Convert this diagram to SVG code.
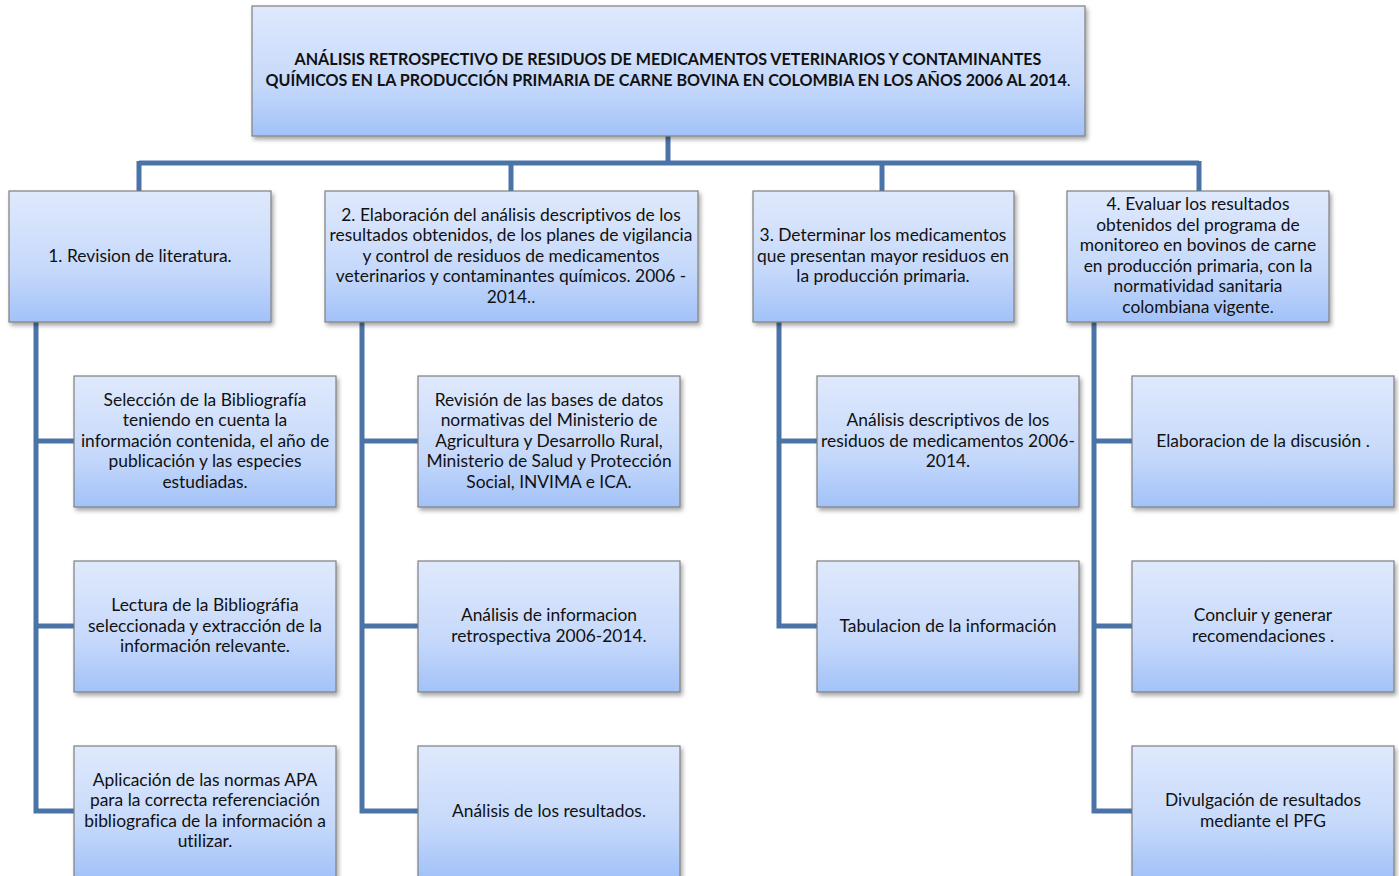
<svg xmlns="http://www.w3.org/2000/svg" width="1399" height="876" viewBox="0 0 1399 876">
<defs>
<linearGradient id="g" x1="0" y1="0" x2="0" y2="1">
<stop offset="0" stop-color="#dfe9fc"/>
<stop offset="0.6" stop-color="#c6d9fb"/>
<stop offset="1" stop-color="#a2c2f8"/>
</linearGradient>
<filter id="sh" x="-10%" y="-10%" width="120%" height="130%">
<feDropShadow dx="2" dy="3" stdDeviation="2" flood-color="#000" flood-opacity="0.35"/>
</filter>
</defs>
<style>
.box{fill:url(#g);stroke:#7f7f7f;stroke-width:1.2;filter:url(#sh)}
.t{font-family:Lato,"Noto Sans",sans-serif;font-size:17.4px;fill:#111;text-anchor:middle;font-variant-ligatures:none}
.tb{font-family:Lato,"Noto Sans",sans-serif;font-size:16.1px;font-weight:bold;fill:#111;text-anchor:middle;font-variant-ligatures:none}
.c{fill:none;stroke:#4a74a8;stroke-width:5}
</style>
<rect width="1399" height="876" fill="#fff"/>
<g id="connectors">
<path class="c" d="M668 136V163M139 163H1199M139 161V191M511 161V191M882 161V191M1199 161V191"/>
<path class="c" d="M36 322V811H74M36 441H74M36 626H74"/>
<path class="c" d="M362 322V811H418M362 441H418M362 626H418"/>
<path class="c" d="M779 322V626H817M779 441H817"/>
<path class="c" d="M1094 322V811H1132M1094 441H1132M1094 626H1132"/>
</g>
<g id="root">
<rect class="box" x="252" y="6" width="833" height="130"/>
<text class="tb" x="668" y="65">ANÁLISIS RETROSPECTIVO DE RESIDUOS DE MEDICAMENTOS VETERINARIOS Y CONTAMINANTES</text>
<text class="tb" x="668" y="86">QUÍMICOS EN LA PRODUCCIÓN PRIMARIA DE CARNE BOVINA EN COLOMBIA EN LOS AÑOS 2006 AL 2014<tspan font-weight="normal">.</tspan></text>
</g>
<g id="n1">
<rect class="box" x="9" y="191" width="262" height="131"/>
<text class="t" x="140" y="262">1. Revision de literatura.</text>
</g>
<g id="n2">
<rect class="box" x="325" y="191" width="373" height="131"/>
<text class="t" x="511" y="221">2. Elaboración del análisis descriptivos de los</text>
<text class="t" x="511" y="241">resultados obtenidos, de los planes de vigilancia</text>
<text class="t" x="511" y="262">y control de residuos de medicamentos</text>
<text class="t" x="511" y="282">veterinarios y contaminantes químicos. 2006 -</text>
<text class="t" x="511" y="303">2014..</text>
</g>
<g id="n3">
<rect class="box" x="753" y="191" width="261" height="131"/>
<text class="t" x="883" y="241">3. Determinar los medicamentos</text>
<text class="t" x="883" y="262">que presentan mayor residuos en</text>
<text class="t" x="883" y="282">la producción primaria.</text>
</g>
<g id="n4">
<rect class="box" x="1067" y="191" width="262" height="131"/>
<text class="t" x="1198" y="210">4. Evaluar los resultados</text>
<text class="t" x="1198" y="231">obtenidos del programa de</text>
<text class="t" x="1198" y="251">monitoreo en bovinos de carne</text>
<text class="t" x="1198" y="272">en producción primaria, con la</text>
<text class="t" x="1198" y="292">normatividad sanitaria</text>
<text class="t" x="1198" y="313">colombiana vigente.</text>
</g>
<g id="n1a">
<rect class="box" x="74" y="376" width="262" height="131"/>
<text class="t" x="205" y="406">Selección de la Bibliografía</text>
<text class="t" x="205" y="426">teniendo en cuenta la</text>
<text class="t" x="205" y="447">información contenida, el año de</text>
<text class="t" x="205" y="467">publicación y las especies</text>
<text class="t" x="205" y="488">estudiadas.</text>
</g>
<g id="n1b">
<rect class="box" x="74" y="561" width="262" height="131"/>
<text class="t" x="205" y="611">Lectura de la Bibliográfia</text>
<text class="t" x="205" y="632">seleccionada y extracción de la</text>
<text class="t" x="205" y="652">información relevante.</text>
</g>
<g id="n1c">
<rect class="box" x="74" y="746" width="262" height="131"/>
<text class="t" x="205" y="786">Aplicación de las normas APA</text>
<text class="t" x="205" y="806">para la correcta referenciación</text>
<text class="t" x="205" y="827">bibliografica de la información a</text>
<text class="t" x="205" y="847">utilizar.</text>
</g>
<g id="n2a">
<rect class="box" x="418" y="376" width="262" height="131"/>
<text class="t" x="549" y="406">Revisión de las bases de datos</text>
<text class="t" x="549" y="426">normativas del Ministerio de</text>
<text class="t" x="549" y="447">Agricultura y Desarrollo Rural,</text>
<text class="t" x="549" y="467">Ministerio de Salud y Protección</text>
<text class="t" x="549" y="488">Social, INVIMA e ICA.</text>
</g>
<g id="n2b">
<rect class="box" x="418" y="561" width="262" height="131"/>
<text class="t" x="549" y="621">Análisis de informacion</text>
<text class="t" x="549" y="642">retrospectiva 2006-2014.</text>
</g>
<g id="n2c">
<rect class="box" x="418" y="746" width="262" height="131"/>
<text class="t" x="549" y="817">Análisis de los resultados.</text>
</g>
<g id="n3a">
<rect class="box" x="817" y="376" width="262" height="131"/>
<text class="t" x="948" y="426">Análisis descriptivos  de los</text>
<text class="t" x="948" y="447">residuos de medicamentos 2006-</text>
<text class="t" x="948" y="467">2014.</text>
</g>
<g id="n3b">
<rect class="box" x="817" y="561" width="262" height="131"/>
<text class="t" x="948" y="632">Tabulacion de la información</text>
</g>
<g id="n4a">
<rect class="box" x="1132" y="376" width="262" height="131"/>
<text class="t" x="1263" y="447">Elaboracion de la discusión .</text>
</g>
<g id="n4b">
<rect class="box" x="1132" y="561" width="262" height="131"/>
<text class="t" x="1263" y="621">Concluir y generar</text>
<text class="t" x="1263" y="642">recomendaciones .</text>
</g>
<g id="n4c">
<rect class="box" x="1132" y="746" width="262" height="131"/>
<text class="t" x="1263" y="806">Divulgación de resultados</text>
<text class="t" x="1263" y="827">mediante el PFG</text>
</g>
</svg>
